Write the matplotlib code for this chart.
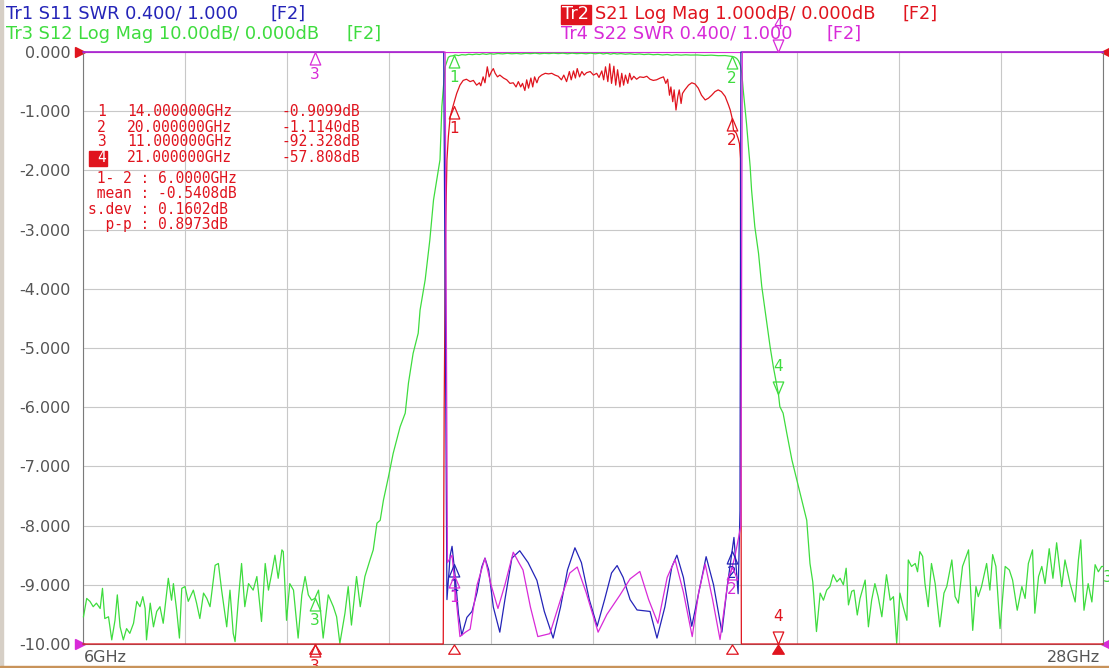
import numpy as np
import matplotlib
matplotlib.use('Agg')
import matplotlib.pyplot as plt
from matplotlib.path import Path
from matplotlib.patches import Rectangle

W, H = 1109, 668

# ---- Tr3 S12 log mag (dB), 10 dB/div, ref 0 dB at top
s12_ghz = [6.01, 6.08, 6.15, 6.22, 6.29, 6.37, 6.42, 6.47, 6.55, 6.62, 6.69, 6.74, 6.80, 6.87, 6.94,
           7.01, 7.09, 7.16, 7.23, 7.29, 7.34, 7.37, 7.45, 7.52, 7.59, 7.66, 7.73, 7.84, 7.91, 7.95,
           8.02, 8.08, 8.13, 8.20, 8.27, 8.38, 8.45, 8.52, 8.60, 8.67, 8.74, 8.85, 8.92, 8.99, 9.10,
           9.17, 9.24, 9.28, 9.35, 9.42, 9.49, 9.57, 9.67, 9.75, 9.85, 9.93, 10.00, 10.07, 10.14, 10.21,
           10.29, 10.32, 10.39, 10.46, 10.54, 10.64, 10.72, 10.79, 10.86, 10.93, 11.00, 11.08, 11.18,
           11.29, 11.40, 11.47, 11.54, 11.65, 11.72, 11.79, 11.90, 11.98, 12.08, 12.19, 12.26,
           12.34, 12.41, 12.48, 12.59, 12.69, 12.84, 12.95, 13.02, 13.12, 13.23, 13.27, 13.38, 13.48,
           13.56, 13.70, 13.74, 13.81, 13.88,
           13.92, 13.97, 14.03, 14.10, 14.17, 14.25, 14.32, 14.40, 14.48, 14.55, 14.62, 14.70, 14.78,
           14.86, 14.95, 15.05, 15.15, 15.25, 15.35, 15.45, 15.55, 15.65, 15.75, 15.85, 15.95, 16.05,
           16.15, 16.25, 16.35, 16.45, 16.55, 16.65, 16.75, 16.85, 16.95, 17.05, 17.15, 17.22, 17.30,
           17.38, 17.45, 17.52, 17.60, 17.70, 17.80, 17.90, 18.00, 18.10, 18.20, 18.30, 18.40, 18.50,
           18.60, 18.70, 18.80, 18.90, 19.00, 19.10, 19.25, 19.40, 19.55, 19.70, 19.85, 19.95, 20.00,
           20.05, 20.10, 20.14, 20.18, 20.21,
           20.24, 20.31, 20.39, 20.42, 20.49, 20.57, 20.64, 20.75, 20.82, 20.89, 21.00, 21.03, 21.10,
           21.18, 21.29, 21.45, 21.61, 21.68, 21.74, 21.82,
           21.90, 21.97, 22.04, 22.11, 22.18, 22.26, 22.33, 22.40, 22.46, 22.51, 22.58, 22.63, 22.70,
           22.76, 22.87, 22.94, 23.01, 23.08, 23.15, 23.23, 23.33, 23.41, 23.48, 23.55, 23.62, 23.69,
           23.77, 23.80, 23.87, 23.95, 24.00, 24.05, 24.11, 24.16, 24.23, 24.30, 24.38, 24.48, 24.57,
           24.63, 24.74, 24.81, 24.88, 24.97, 25.10, 25.19, 25.26, 25.31, 25.38, 25.49, 25.56, 25.62,
           25.69, 25.78, 25.89, 25.98, 26.05, 26.15, 26.25, 26.32, 26.39, 26.48, 26.53, 26.61, 26.68,
           26.75, 26.84, 26.92, 27.00, 27.11, 27.18, 27.29, 27.40, 27.47, 27.52, 27.59, 27.68, 27.76,
           27.83, 27.90, 27.97, 28.00]
s12_db = [-95.4, -92.3, -92.8, -93.7, -93.1, -94.0, -90.6, -95.7, -95.4, -99.3, -96.0, -91.7, -97.1, -99.3, -97.4,
          -98.2, -96.5, -92.8, -93.7, -92.0, -94.0, -99.3, -93.1, -97.1, -94.5, -93.7, -96.5, -88.9, -92.6, -89.8,
          -94.3, -99.0, -90.6, -90.3, -92.8, -90.9, -93.1, -95.7, -91.4, -92.3, -93.7, -86.7, -86.4, -90.9, -97.1,
          -90.9, -98.2, -99.6, -92.6, -86.4, -93.7, -89.8, -90.9, -88.6, -96.2, -86.4, -90.9, -88.1, -85.0, -88.9,
          -84.1, -84.4, -96.0, -89.8, -90.9, -99.0, -91.7, -88.6, -91.7, -92.6, -92.3, -90.9, -99.0,
          -91.7, -93.7, -95.4, -99.9, -94.8, -90.3, -96.8, -88.6, -93.7, -88.6, -85.8, -84.1,
          -79.6, -79.1, -75.7, -71.7, -67.8, -63.3, -61.0, -55.9, -50.9, -47.5, -43.6, -38.5, -31.8,
          -25.0, -18.2, -9.2, -2.5, -0.9,
          -0.7, -0.65, -0.5, -0.6, -0.45, -0.5, -0.38, -0.45, -0.35, -0.42, -0.3, -0.4, -0.28,
          -0.36, -0.25, -0.32, -0.22, -0.3, -0.24, -0.32, -0.22, -0.28, -0.2, -0.3, -0.22, -0.27,
          -0.2, -0.27, -0.2, -0.3, -0.2, -0.28, -0.22, -0.3, -0.2, -0.3, -0.2, -0.33, -0.22,
          -0.36, -0.24, -0.34, -0.27, -0.37, -0.3, -0.4, -0.33, -0.43, -0.36, -0.46, -0.4, -0.5,
          -0.42, -0.55, -0.46, -0.53, -0.47, -0.52, -0.5, -0.58, -0.53, -0.62, -0.6, -0.7, -0.75,
          -0.85, -1.1, -1.5, -2.3, -3.6,
          -6.4, -12.0, -19.4, -23.3, -29.5, -34.0, -39.6, -45.8, -49.8, -53.2, -57.8, -59.9, -61.0,
          -64.4, -68.9, -74.0, -79.1, -86.4, -89.5, -97.9,
          -91.4, -92.6, -90.9, -90.3, -88.3, -89.5, -88.9, -90.0, -87.2, -93.4, -91.1, -90.9, -95.1,
          -92.3, -89.2, -97.1, -92.6, -89.8, -92.0, -95.4, -88.3, -92.6, -92.0, -99.9, -91.4, -93.7,
          -96.0, -85.8, -86.9, -86.4, -87.8, -84.4, -85.2, -89.8, -93.7, -86.4, -89.8, -97.1, -91.4,
          -90.3, -85.8, -92.0, -93.1, -86.9, -84.1, -97.7, -90.3, -92.0, -90.3, -86.4, -90.9, -84.9,
          -86.9, -97.4, -86.9, -87.5, -89.2, -94.3, -90.3, -92.3, -86.4, -84.1, -94.8, -88.6, -86.9,
          -89.8, -83.9, -88.9, -82.9, -90.3, -85.8, -89.8, -92.9, -85.8, -82.4, -94.3, -89.8, -92.9,
          -86.6, -87.8, -86.9, -86.9]

# ---- Tr2 S21 log mag (dB), 1 dB/div, ref 0 dB at top
s21_ghz = [6.0, 13.77, 13.79, 13.82, 13.85, 13.88, 13.92, 13.99, 14.06, 14.13, 14.20, 14.27, 14.35, 14.42,
           14.49, 14.55, 14.58, 14.63, 14.67, 14.72, 14.76, 14.81, 14.85, 14.89, 14.94, 14.99, 15.07,
           15.14, 15.21, 15.28, 15.34, 15.39, 15.44, 15.48, 15.53, 15.57, 15.61, 15.66, 15.70, 15.74,
           15.79, 15.83, 15.89, 15.97, 16.04, 16.11, 16.18, 16.25, 16.32, 16.37, 16.43, 16.49, 16.53,
           16.58, 16.62, 16.66, 16.71, 16.76, 16.81, 16.86, 16.94, 17.01, 17.08, 17.13, 17.19, 17.23,
           17.27, 17.32, 17.36, 17.40, 17.45, 17.49, 17.53, 17.58, 17.62, 17.66, 17.70, 17.75, 17.79,
           17.83, 17.88, 17.94, 18.01, 18.09, 18.16, 18.23, 18.30, 18.37, 18.45, 18.52, 18.57, 18.61,
           18.65, 18.68, 18.72, 18.75, 18.79, 18.83, 18.86, 18.90, 18.93, 18.98, 19.06, 19.13, 19.20,
           19.27, 19.34, 19.42, 19.49, 19.56, 19.63, 19.70, 19.77, 19.85, 19.92, 19.96, 20.00, 20.03,
           20.09, 20.13, 20.16, 20.18, 20.19, 20.20, 28.0]
s21_db = [-40.0, -40.0, -6.0, -3.0, -1.82, -1.43, -1.09, -0.89, -0.70, -0.56, -0.48, -0.46, -0.50, -0.48,
          -0.56, -0.52, -0.57, -0.42, -0.52, -0.25, -0.42, -0.33, -0.28, -0.36, -0.42, -0.39, -0.44,
          -0.47, -0.53, -0.52, -0.59, -0.50, -0.59, -0.53, -0.65, -0.47, -0.61, -0.44, -0.59, -0.42,
          -0.52, -0.43, -0.39, -0.36, -0.37, -0.36, -0.39, -0.41, -0.47, -0.39, -0.50, -0.33, -0.47,
          -0.32, -0.44, -0.28, -0.42, -0.33, -0.39, -0.35, -0.33, -0.39, -0.36, -0.43, -0.32, -0.47,
          -0.25, -0.50, -0.20, -0.53, -0.24, -0.56, -0.30, -0.59, -0.36, -0.56, -0.39, -0.53, -0.36,
          -0.47, -0.41, -0.46, -0.42, -0.43, -0.41, -0.46, -0.48, -0.47, -0.44, -0.42, -0.53, -0.46,
          -0.73, -0.59, -0.84, -0.64, -0.98, -0.75, -0.64, -0.87, -0.70, -0.64, -0.56, -0.52, -0.54,
          -0.61, -0.73, -0.81, -0.78, -0.73, -0.67, -0.64, -0.67, -0.75, -0.89, -0.98, -1.114, -1.32,
          -1.37, -1.46, -1.55, -1.8, -6.0, -40.0, -40.0]

# ---- Tr1 S11 SWR, 0.4/div, ref 1.000 at bottom
s11_ghz = [6.0, 13.78, 13.85, 13.92, 13.96, 14.03, 14.10, 14.17, 14.28, 14.39, 14.50, 14.60, 14.67,
           14.75, 14.85, 14.99, 15.10, 15.25, 15.42, 15.60, 15.79, 15.95, 16.14, 16.30, 16.45, 16.61,
           16.75, 16.92, 17.09, 17.25, 17.40, 17.52, 17.65, 17.80, 17.95, 18.23, 18.38, 18.55, 18.70,
           18.81, 18.95, 19.13, 19.25, 19.44, 19.60, 19.78, 19.90, 20.04, 20.13, 20.17, 20.19, 28.0]
s11_swr = [20.0, 20.0, 1.30, 1.60, 1.66, 1.45, 1.20, 1.06, 1.18, 1.22, 1.35, 1.52, 1.58,
           1.50, 1.25, 1.08, 1.30, 1.58, 1.63, 1.55, 1.43, 1.22, 1.04, 1.25, 1.50, 1.65,
           1.55, 1.30, 1.12, 1.30, 1.48, 1.53, 1.45, 1.30, 1.23, 1.22, 1.04, 1.25, 1.52,
           1.60, 1.45, 1.12, 1.30, 1.59, 1.40, 1.08, 1.40, 1.72, 1.34, 1.90, 20.0, 20.0]

# ---- Tr4 S22 SWR, 0.4/div, ref 1.000 at bottom
s22_ghz = [6.0, 13.81, 13.86, 13.96, 14.05, 14.13, 14.25, 14.35, 14.50, 14.67, 14.80, 14.95, 15.10,
           15.28, 15.40, 15.49, 15.65, 15.81, 16.07, 16.30, 16.50, 16.66, 16.85, 17.11, 17.30, 17.58,
           17.80, 18.01, 18.20, 18.40, 18.60, 18.77, 18.95, 19.14, 19.28, 19.42, 19.58, 19.74, 19.90,
           20.06, 20.19, 20.22, 28.0]
s22_swr = [20.0, 20.0, 1.55, 1.60, 1.30, 1.05, 1.08, 1.10, 1.40, 1.58, 1.40, 1.24, 1.40,
           1.62, 1.55, 1.50, 1.25, 1.05, 1.07, 1.30, 1.48, 1.52, 1.35, 1.08, 1.20, 1.33,
           1.44, 1.49, 1.30, 1.14, 1.45, 1.57, 1.35, 1.05, 1.35, 1.54, 1.30, 1.03, 1.40,
           1.59, 1.80, 20.0, 20.0]

# marker table (Tr2 active)
mk_ghz = [14.0, 20.0, 11.0, 21.0]
mk_s21 = [-0.9099, -1.1140, -92.328, -57.808]
span_ghz, mean_db, sdev_db, pp_db = 6.0, -0.5408, 0.1602, 0.8973

BLUE, RED, GREEN, MAG = '#2424b8', '#e0141e', '#3edc3e', '#d82ad8'
GREY_TXT = '#555555'


def logmag(db, per_div):
    return np.clip(np.asarray(db) / per_div, -10, 0)


def swr(v, per_div=0.4):
    return np.clip(-10 + (np.asarray(v) - 1.0) / per_div, -10, 0)


y_s12 = logmag(s12_db, 10.0)
y_s21 = logmag(s21_db, 1.0)
y_s11 = swr(s11_swr)
y_s22 = swr(s22_swr)

fig = plt.figure(figsize=(W / 100, H / 100), dpi=100)
ax = fig.add_axes([83 / W, 24 / H, 1020 / W, 592 / H])


def ptxt(x, y, s, **kw):
    return fig.text(x / W, 1 - y / H, s, **kw)


ax.set_xlim(6, 28)
ax.set_ylim(-10, 0)
ax.set_xticks(np.linspace(6, 28, 11))
ax.set_xticklabels([])
ax.set_yticks(np.arange(-10, 1, 1))
ax.set_yticklabels(['-10.00'] + ['%.3f' % v for v in np.arange(-9, 1, 1)])
ax.tick_params(length=0, pad=9, labelsize=11.5, labelcolor=GREY_TXT)
ax.grid(True, color='#c8c8c8', lw=0.8)
ax.set_axisbelow(True)
for s in ax.spines.values():
    s.set_color('#7a7a7a')
    s.set_linewidth(0.8)
ax.spines['top'].set_color(MAG)

ax.plot(s12_ghz, y_s12, color=GREEN, lw=0.9, zorder=3, clip_on=False)
ax.plot(s21_ghz, y_s21, color=RED, lw=0.9, zorder=4, clip_on=False)
ax.plot(s11_ghz, y_s11, color=BLUE, lw=0.9, zorder=5, clip_on=False)
ax.plot(s22_ghz, y_s22, color=MAG, lw=0.9, zorder=6, clip_on=False)

# marker symbols: tip on the trace
tri_below = Path([(0, 0), (-0.42, -1), (0.42, -1), (0, 0)],
                 [Path.MOVETO, Path.LINETO, Path.LINETO, Path.CLOSEPOLY])
tri_above = Path([(0, 0), (-0.42, 1), (0.42, 1), (0, 0)],
                 [Path.MOVETO, Path.LINETO, Path.LINETO, Path.CLOSEPOLY])


def marker(f, y, label, color, above=False, fs=11):
    ax.plot([f], [y], marker=tri_above if above else tri_below, ms=18,
            mfc='none', mec=color, mew=0.9, ls='none', zorder=8, clip_on=False)
    off = 20 if above else -16
    ax.annotate(label, (f, y), xytext=(0, off), textcoords='offset points',
                ha='center', va='center', color=color, fontsize=fs, zorder=8,
                annotation_clip=False)


for i, f in enumerate(mk_ghz):
    lab = str(i + 1)
    marker(f, np.interp(f, s12_ghz, y_s12), lab, GREEN, above=(i == 3))
    marker(f, float(logmag(mk_s21[i], 1.0)), lab, RED, above=(i == 3))
    if i < 2:
        marker(f, np.interp(f, s11_ghz, y_s11), lab, BLUE)
        marker(f, np.interp(f, s22_ghz, y_s22), lab, MAG)
    else:
        marker(f, 0, lab, MAG, above=(i == 3))

# stimulus markers under the axis
stim = Path([(0, -0.05), (-0.6, -1), (0.6, -1), (0, -0.05)],
            [Path.MOVETO, Path.LINETO, Path.LINETO, Path.CLOSEPOLY])
for i, f in enumerate(mk_ghz):
    ax.plot([f], [-10], marker=stim, ms=14, ls='none', mec=RED, mew=0.9,
            mfc=RED if i == 3 else 'none', zorder=9, clip_on=False)

# reference position arrows
ax.plot([-0.003], [1], marker='>', ms=7, color=RED, transform=ax.transAxes, clip_on=False)
ax.plot([-0.003], [0], marker='>', ms=7, color=MAG, transform=ax.transAxes, clip_on=False)
ax.plot([1.004], [1], marker='<', ms=8, color=RED, transform=ax.transAxes, clip_on=False)
ax.plot([1.004], [0], marker='<', ms=8, color=MAG, transform=ax.transAxes, clip_on=False)

# header
hfs = 12.8
ptxt(6, 14, 'Tr1 S11 SWR 0.400/ 1.000', color=BLUE, fontsize=hfs, va='center')
ptxt(271, 14, '[F2]', color=BLUE, fontsize=hfs, va='center')
ptxt(6, 34, 'Tr3 S12 Log Mag 10.00dB/ 0.000dB', color=GREEN, fontsize=hfs, va='center')
ptxt(346, 34, '[F2]', color=GREEN, fontsize=hfs, va='center')
fig.patches.append(Rectangle((561 / W, 1 - 24 / H), 30 / W, 19 / H, transform=fig.transFigure,
                             color=RED, zorder=1))
ptxt(562, 14, 'Tr2', color='white', fontsize=hfs, va='center', zorder=2)
ptxt(595, 14, 'S21 Log Mag 1.000dB/ 0.000dB', color=RED, fontsize=hfs, va='center')
ptxt(903, 14, '[F2]', color=RED, fontsize=hfs, va='center')
ptxt(561, 34, 'Tr4 S22 SWR 0.400/ 1.000', color=MAG, fontsize=hfs, va='center')
ptxt(827, 34, '[F2]', color=MAG, fontsize=hfs, va='center')

# x labels
ptxt(84, 658, '%dGHz' % 6, color=GREY_TXT, fontsize=11.5, va='center')
ptxt(1100, 658, '%dGHz' % 28, color=GREY_TXT, fontsize=11.5, va='center', ha='right')

# marker table
mono = dict(family='DejaVu Sans Mono', fontsize=10.5, color=RED, va='center')
row_y = [112, 127, 142, 158]
for i, f in enumerate(mk_ghz):
    v = mk_s21[i]
    vs = ('%.4f' % v) if abs(v) < 10 else ('%.3f' % v)
    if i == 3:
        fig.patches.append(Rectangle((89 / W, 1 - 166 / H), 18 / W, 15 / H,
                                     transform=fig.transFigure, color=RED))
        ptxt(97, row_y[i], str(i + 1), **dict(mono, color='white'))
    else:
        ptxt(97, row_y[i], str(i + 1), **mono)
    ptxt(127, row_y[i], '%.6fGHz' % f, **mono)
    ptxt(282, row_y[i], vs + 'dB', **mono)
ptxt(88, 178, ' 1- 2 : %.4fGHz' % span_ghz, **mono)
ptxt(88, 193, ' mean : %.4fdB' % mean_db, **mono)
ptxt(88, 209, 's.dev : %.4fdB' % sdev_db, **mono)
ptxt(88, 225, '  p-p : %.4fdB' % pp_db, **mono)

ptxt(1103, 577, '3', color=GREEN, fontsize=11, va='center')

# frame edges of the screen capture
fig.patches.append(Rectangle((0, 0), 3 / W, 1, transform=fig.transFigure, color='#d6cfc6'))
fig.patches.append(Rectangle((0, 0), 1, 2 / H, transform=fig.transFigure, color='#c8935a'))

fig.savefig('out.png', dpi=100, facecolor='white')
